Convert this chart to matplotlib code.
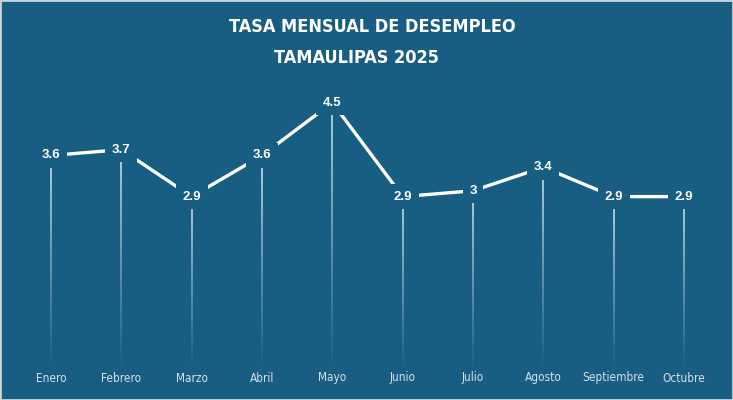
import matplotlib
matplotlib.use("Agg")
import matplotlib.pyplot as plt
import numpy as np
from matplotlib.collections import LineCollection
from matplotlib.patches import Rectangle

months = ["Enero", "Febrero", "Marzo", "Abril", "Mayo", "Junio", "Julio",
          "Agosto", "Septiembre", "Octubre"]
values = [3.6, 3.7, 2.9, 3.6, 4.5, 2.9, 3.0, 3.4, 2.9, 2.9]
value_labels = ["3.6", "3.7", "2.9", "3.6", "4.5", "2.9", "3", "3.4", "2.9", "2.9"]
title1 = "TASA MENSUAL DE DESEMPLEO"
title2 = "TAMAULIPAS 2025"

BG = "#175e82"

fig = plt.figure(figsize=(7.33, 4.0), dpi=100)
fig.patch.set_facecolor(BG)
ax = fig.add_axes([0, 0, 1, 1])
ax.set_facecolor(BG)
ax.set_axis_off()

pxx = (684 - 51) / 9.0
pxy = 58.75
ax.set_xlim(-51 / pxx, 9 + (733 - 684) / pxx)
ax.set_ylim(-33 / pxy, (400 - 33) / pxy)

x = np.arange(len(values))

# gradient vertical lines (fading toward the bottom)
for xi, v in zip(x, values):
    n = 40
    ys = np.linspace(0, v, n + 1)
    segs = [[(xi, ys[i]), (xi, ys[i + 1])] for i in range(n)]
    alphas = np.linspace(0.02, 0.85, n)
    cols = [(0.80, 0.87, 0.92, a) for a in alphas]
    ax.add_collection(LineCollection(segs, colors=cols, linewidths=1.1, zorder=1,
                                     capstyle="butt", antialiaseds=False))

ax.plot(x, values, color="white", lw=2.4, zorder=2, solid_capstyle="butt",
        solid_joinstyle="miter")

for xi, v, lab in zip(x, values, value_labels):
    ax.text(xi, v, lab, ha="center", va="center", color="white", fontsize=9.5,
            fontweight="bold", family="Liberation Sans", zorder=3,
            bbox=dict(boxstyle="square,pad=0.5", facecolor=BG, edgecolor="none"))

for xi, m in zip(x, months):
    ax.text(xi, -11 / pxy, m, ha="center", va="center", color="#d6e0e8",
            fontsize=8.5, family="DejaVu Sans", fontstretch="condensed", zorder=3)

fig.text(372 / 733, 1 - 27 / 400, title1, ha="center", va="center", color="white",
         fontsize=13, fontweight="bold", family="DejaVu Sans", fontstretch="condensed")
fig.text(356 / 733, 1 - 58 / 400, title2, ha="center", va="center", color="white",
         fontsize=13, fontweight="bold", family="DejaVu Sans", fontstretch="condensed")

fig.patches.append(Rectangle((0, 0), 1, 1, transform=fig.transFigure, fill=False,
                             edgecolor="#c9d3db", lw=2.0, zorder=10))

fig.savefig("out.png", dpi=100, facecolor=BG)
